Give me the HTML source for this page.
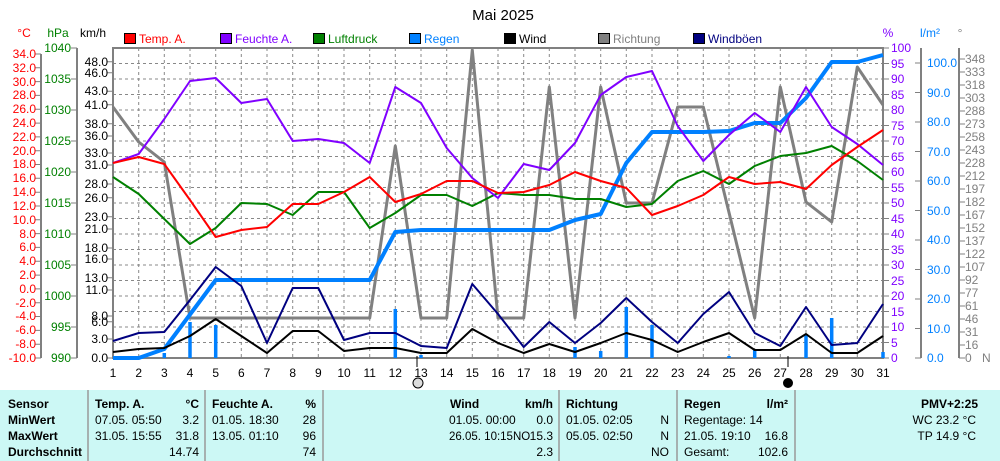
<!DOCTYPE html>
<html><head><meta charset="utf-8"><style>
body{margin:0;background:#fff;}
svg{display:block;font-family:"Liberation Sans",sans-serif;font-size:12px;}
</style></head><body>
<svg width="1000" height="461" viewBox="0 0 1000 461" xmlns="http://www.w3.org/2000/svg">
<text x="503" y="20" text-anchor="middle" font-size="15">Mai 2025</text>
<text x="24" y="37" fill="#f00" text-anchor="middle">°C</text>
<text x="58" y="37" fill="#008000" text-anchor="middle">hPa</text>
<text x="93" y="37" text-anchor="middle">km/h</text>
<text x="888" y="37" fill="#8000ff" text-anchor="middle">%</text>
<text x="930" y="37" fill="#0080ff" text-anchor="middle">l/m²</text>
<text x="960" y="37" fill="#808080" text-anchor="middle">°</text>
<g stroke="#000" stroke-width="1">
<rect x="124.5" y="33.5" width="11" height="10" fill="#f00"/>
<rect x="220.5" y="33.5" width="11" height="10" fill="#8000ff"/>
<rect x="313.5" y="33.5" width="11" height="10" fill="#008000"/>
<rect x="409.5" y="33.5" width="11" height="10" fill="#0080ff"/>
<rect x="504.5" y="33.5" width="11" height="10" fill="#000"/>
<rect x="598.5" y="33.5" width="11" height="10" fill="#808080"/>
<rect x="693.5" y="33.5" width="11" height="10" fill="#000080"/>
</g>
<text x="139" y="43" fill="#f00">Temp. A.</text>
<text x="235" y="43" fill="#8000ff">Feuchte A.</text>
<text x="328" y="43" fill="#008000">Luftdruck</text>
<text x="424" y="43" fill="#0080ff">Regen</text>
<text x="519" y="43">Wind</text>
<text x="613" y="43" fill="#808080">Richtung</text>
<text x="708" y="43" fill="#000080">Windböen</text>
<path fill="none" stroke="#888" stroke-width="1" stroke-dasharray="3,3" d="M113 342.5H883M113 327H883M113 311.5H883M113 296H883M113 280.5H883M113 265H883M113 249.5H883M113 234H883M113 218.5H883M113 203H883M113 187.5H883M113 172H883M113 156.5H883M113 141H883M113 125.5H883M113 110H883M113 94.5H883M113 79H883M113 63.5H883
M138.7 48V358M164.3 48V358M190 48V358M215.7 48V358M241.3 48V358M267 48V358M292.7 48V358M318.3 48V358M344 48V358M369.7 48V358M395.3 48V358M421 48V358M446.7 48V358M472.3 48V358M498 48V358M523.7 48V358M549.3 48V358M575 48V358M600.7 48V358M626.3 48V358M652 48V358M677.7 48V358M703.3 48V358M729 48V358M754.7 48V358M780.3 48V358M806 48V358M831.7 48V358M857.3 48V358"/>
<g stroke="#808080" stroke-width="2" fill="none">
<rect x="113" y="48" width="770" height="310"/>
<path d="M41 54V358M77 48V358M921 48V358M959 48V358"/>
</g>
<g stroke="#808080" stroke-width="1">
<path d="M35 358H41M35 344.2H41M35 330.4H41M35 316.5H41M35 302.7H41M35 288.9H41M35 275.1H41M35 261.3H41M35 247.4H41M35 233.6H41M35 219.8H41M35 206H41M35 192.2H41M35 178.3H41M35 164.5H41M35 150.7H41M35 136.9H41M35 123.1H41M35 109.2H41M35 95.4H41M35 81.6H41M35 67.8H41M35 54H41"/>
<path d="M71 358H77M71 327H77M71 296H77M71 265H77M71 234H77M71 203H77M71 172H77M71 141H77M71 110H77M71 79H77M71 48H77"/>
<path d="M107 358H113M107 339H113M107 321.7H113M107 316H113M107 290H113M107 277.7H113M107 259H113M107 248H113M107 229H113M107 216.7H113M107 197.7H113M107 184H113M107 165H113M107 153H113M107 136H113M107 123.7H113M107 104.7H113M107 91.3H113M107 72.7H113M107 61.7H113"/>
<path d="M883 358H889M883 342.5H889M883 327H889M883 311.5H889M883 296H889M883 280.5H889M883 265H889M883 249.5H889M883 234H889M883 218.5H889M883 203H889M883 187.5H889M883 172H889M883 156.5H889M883 141H889M883 125.5H889M883 110H889M883 94.5H889M883 79H889M883 63.5H889M883 48H889"/>
<path d="M915 358H921M915 328.5H921M915 299H921M915 269.5H921M915 240H921M915 210.5H921M915 181H921M915 151.5H921M915 122H921M915 92.5H921M915 63H921"/>
<path d="M959 358H965M959 345H965M959 332H965M959 319H965M959 306H965M959 293H965M959 280H965M959 267H965M959 254H965M959 241H965M959 228H965M959 215H965M959 202H965M959 189H965M959 176H965M959 163H965M959 150H965M959 137H965M959 124H965M959 111H965M959 98H965M959 85H965M959 72H965M959 59H965"/>
</g>
<g fill="#f00" text-anchor="end" font-size="12">
<text x="36" y="362">-10.0</text><text x="36" y="348">-8.0</text><text x="36" y="334">-6.0</text><text x="36" y="320">-4.0</text><text x="36" y="307">-2.0</text><text x="36" y="293">0.0</text><text x="36" y="279">2.0</text><text x="36" y="265">4.0</text><text x="36" y="251">6.0</text><text x="36" y="238">8.0</text><text x="36" y="224">10.0</text><text x="36" y="210">12.0</text><text x="36" y="196">14.0</text><text x="36" y="182">16.0</text><text x="36" y="168">18.0</text><text x="36" y="155">20.0</text><text x="36" y="141">22.0</text><text x="36" y="127">24.0</text><text x="36" y="113">26.0</text><text x="36" y="99">28.0</text><text x="36" y="86">30.0</text><text x="36" y="72">32.0</text><text x="36" y="58">34.0</text>
</g>
<g fill="#008000" text-anchor="end" font-size="12">
<text x="71" y="362">990</text><text x="71" y="331">995</text><text x="71" y="300">1000</text><text x="71" y="269">1005</text><text x="71" y="238">1010</text><text x="71" y="207">1015</text><text x="71" y="176">1020</text><text x="71" y="145">1025</text><text x="71" y="114">1030</text><text x="71" y="83">1035</text><text x="71" y="52">1040</text>
</g>
<g text-anchor="end" font-size="12">
<text x="108" y="362">0.0</text><text x="108" y="343">3.0</text><text x="108" y="326">6.0</text><text x="108" y="320">8.0</text><text x="108" y="294">11.0</text><text x="108" y="282">13.0</text><text x="108" y="263">16.0</text><text x="108" y="252">18.0</text><text x="108" y="233">21.0</text><text x="108" y="221">23.0</text><text x="108" y="202">26.0</text><text x="108" y="188">28.0</text><text x="108" y="169">31.0</text><text x="108" y="157">33.0</text><text x="108" y="140">36.0</text><text x="108" y="128">38.0</text><text x="108" y="109">41.0</text><text x="108" y="95">43.0</text><text x="108" y="77">46.0</text><text x="108" y="66">48.0</text>
</g>
<g fill="#8000ff" font-size="12">
<text x="891" y="362">0</text><text x="891" y="347">5</text><text x="891" y="331">10</text><text x="891" y="316">15</text><text x="891" y="300">20</text><text x="891" y="285">25</text><text x="891" y="269">30</text><text x="891" y="254">35</text><text x="891" y="238">40</text><text x="891" y="223">45</text><text x="891" y="207">50</text><text x="891" y="192">55</text><text x="891" y="176">60</text><text x="891" y="161">65</text><text x="891" y="145">70</text><text x="891" y="130">75</text><text x="891" y="114">80</text><text x="891" y="99">85</text><text x="891" y="83">90</text><text x="891" y="68">95</text><text x="891" y="52">100</text>
</g>
<g fill="#0080ff" font-size="12">
<text x="927" y="362">0.0</text><text x="927" y="333">10.0</text><text x="927" y="303">20.0</text><text x="927" y="274">30.0</text><text x="927" y="244">40.0</text><text x="927" y="215">50.0</text><text x="927" y="185">60.0</text><text x="927" y="156">70.0</text><text x="927" y="126">80.0</text><text x="927" y="97">90.0</text><text x="927" y="67">100.0</text>
</g>
<g fill="#808080" font-size="12">
<text x="965" y="362">0</text><text x="965" y="349">16</text><text x="965" y="336">31</text><text x="965" y="323">46</text><text x="965" y="310">61</text><text x="965" y="297">77</text><text x="965" y="284">92</text><text x="965" y="271">107</text><text x="965" y="258">122</text><text x="965" y="245">137</text><text x="965" y="232">152</text><text x="965" y="219">167</text><text x="965" y="206">182</text><text x="965" y="193">197</text><text x="965" y="180">212</text><text x="965" y="167">228</text><text x="965" y="154">243</text><text x="965" y="141">258</text><text x="965" y="128">273</text><text x="965" y="115">288</text><text x="965" y="102">303</text><text x="965" y="89">318</text><text x="965" y="76">333</text><text x="965" y="63">348</text>
<text x="982" y="362">N</text>
</g>
<g text-anchor="middle" font-size="12">
<text x="113" y="377">1</text><text x="138.7" y="377">2</text><text x="164.3" y="377">3</text><text x="190" y="377">4</text><text x="215.7" y="377">5</text><text x="241.3" y="377">6</text><text x="267" y="377">7</text><text x="292.7" y="377">8</text><text x="318.3" y="377">9</text><text x="344" y="377">10</text><text x="369.7" y="377">11</text><text x="395.3" y="377">12</text><text x="421" y="377">13</text><text x="446.7" y="377">14</text><text x="472.3" y="377">15</text><text x="498" y="377">16</text><text x="523.7" y="377">17</text><text x="549.3" y="377">18</text><text x="575" y="377">19</text><text x="600.7" y="377">20</text><text x="626.3" y="377">21</text><text x="652" y="377">22</text><text x="677.7" y="377">23</text><text x="703.3" y="377">24</text><text x="729" y="377">25</text><text x="754.7" y="377">26</text><text x="780.3" y="377">27</text><text x="806" y="377">28</text><text x="831.7" y="377">29</text><text x="857.3" y="377">30</text><text x="883" y="377">31</text>
</g>
<path d="M417 356V367M788 356V367" stroke="#000" stroke-width="1"/>
<circle cx="418" cy="383" r="5" fill="#ddd" stroke="#000"/>
<circle cx="788" cy="383" r="5" fill="#000"/>
<g stroke="#0080ff" stroke-width="3.5">
<path d="M164.3 353V358M190 322V358M215.7 325V358M395.3 309V358M421 355V358M575 347V358M600.7 351V358M626.3 307V358M652 325V358M729 356V358M754.7 349V358M806 334V358M831.7 318V358M883 352V358"/>
</g>
<g fill="none" stroke-linejoin="round">
<polyline stroke="#808080" stroke-width="3" points="113,107 138.7,142 164.3,162 190,318 215.7,318 241.3,318 267,318 292.7,318 318.3,318 344,318 369.7,318 395.3,146 421,318 446.7,318 472.3,50 498,318 523.7,318 549.3,87 575,318 600.7,87 626.3,203 652,203 677.7,107 703.3,107 754.7,318 780.3,87 806,202 831.7,222 857.3,67 883,105"/>
<polyline stroke="#0080ff" stroke-width="4" points="113,358 138.7,358 164.3,349 215.7,280 241.3,280 369.7,280 395.3,232 421,230 549.3,230 575,220 600.7,214 626.3,163 652,132 703.3,132 729,131 754.7,123 780.3,123 806,98 831.7,62 857.3,62 883,55"/>
<polyline stroke="#000080" stroke-width="2" points="113,341 138.7,333 164.3,332 190,300 215.7,267 241.3,286 267,343 292.7,288 318.3,288 344,340 369.7,333 395.3,333 421,346 446.7,348 472.3,284 498,314 523.7,347 549.3,322 575,343 600.7,323 626.3,298 652,322 677.7,343 703.3,314 729,292 754.7,333 780.3,346 806,307 831.7,345 857.3,343 883,304"/>
<polyline stroke="#000" stroke-width="2" points="113,352 138.7,349 164.3,348 190,336 215.7,319 241.3,336 267,353 292.7,331 318.3,331 344,351 369.7,348 395.3,348 421,353 446.7,353 472.3,329 498,343 523.7,353 549.3,344 575,352 600.7,343 626.3,333 652,340 677.7,352 703.3,342 729,333 754.7,350 780.3,350 806,334 831.7,353 857.3,353 883,336"/>
<polyline stroke="#008000" stroke-width="2" points="113,177 138.7,194 164.3,219 190,244 215.7,228 241.3,203 267,204 292.7,215 318.3,192 344,192 369.7,228 395.3,213 421,195 446.7,195 472.3,206 498,193 523.7,195 549.3,195 575,199 600.7,199 626.3,207 652,204 677.7,181 703.3,171 729,184 754.7,166 780.3,156 806,153 831.7,146 857.3,161 883,180"/>
<polyline stroke="#8000ff" stroke-width="2" points="113,163 138.7,154 164.3,119 190,81 215.7,78 241.3,103 267,99 292.7,141 318.3,139 344,143 369.7,163 395.3,87 421,103 446.7,148 472.3,178 498,198 523.7,164 549.3,170 575,143 600.7,95 626.3,77 652,71 677.7,126 703.3,161 729,135 754.7,113 780.3,132 806,87 831.7,127 857.3,144 883,165"/>
<polyline stroke="#f00" stroke-width="2" points="113,163 138.7,157 164.3,164 190,200 215.7,237 241.3,230 267,227 292.7,204 318.3,204 344,192 369.7,177 395.3,202 421,194 446.7,181 472.3,181 498,193 523.7,192 549.3,185 575,172 600.7,181 626.3,188 652,215 677.7,206 703.3,195 729,177 754.7,184 780.3,182 806,189 831.7,165 857.3,147 883,130"/>
</g>
<rect x="0" y="390" width="1000" height="71" fill="#ccf8f5"/>
<path d="M88 390V461M205 390V461M323 390V461M559 390V461M677 390V461M795 390V461" stroke="#999" stroke-width="1.5"/>
<g font-size="12">
<g font-weight="bold">
<text x="8" y="408">Sensor</text><text x="8" y="424">MinWert</text><text x="8" y="440">MaxWert</text><text x="8" y="456">Durchschnitt</text>
<text x="95" y="408">Temp. A.</text><text x="199" y="408" text-anchor="end">°C</text>
<text x="212" y="408">Feuchte A.</text><text x="316" y="408" text-anchor="end">%</text>
<text x="450" y="408">Wind</text><text x="553" y="408" text-anchor="end">km/h</text>
<text x="566" y="408">Richtung</text>
<text x="684" y="408">Regen</text><text x="788" y="408" text-anchor="end">l/m²</text>
<text x="978" y="408" text-anchor="end">PMV+2:25</text>
</g>
<text x="95" y="424">07.05.  05:50</text><text x="199" y="424" text-anchor="end">3.2</text>
<text x="95" y="440">31.05.  15:55</text><text x="199" y="440" text-anchor="end">31.8</text>
<text x="199" y="456" text-anchor="end">14.74</text>
<text x="212" y="424">01.05.  18:30</text><text x="316" y="424" text-anchor="end">28</text>
<text x="212" y="440">13.05.  01:10</text><text x="316" y="440" text-anchor="end">96</text>
<text x="316" y="456" text-anchor="end">74</text>
<text x="449" y="424">01.05. 00:00</text><text x="553" y="424" text-anchor="end">0.0</text>
<text x="449" y="440" font-size="11.5">26.05. 10:15NO</text><text x="553" y="440" text-anchor="end">15.3</text>
<text x="553" y="456" text-anchor="end">2.3</text>
<text x="566" y="424">01.05.  02:05</text><text x="669" y="424" text-anchor="end">N</text>
<text x="566" y="440">05.05.  02:50</text><text x="669" y="440" text-anchor="end">N</text>
<text x="669" y="456" text-anchor="end">NO</text>
<text x="684" y="424">Regentage: 14</text>
<text x="684" y="440">21.05.  19:10</text><text x="788" y="440" text-anchor="end">16.8</text>
<text x="684" y="456">Gesamt:</text><text x="788" y="456" text-anchor="end">102.6</text>
<text x="976" y="424" text-anchor="end">WC 23.2 °C</text>
<text x="976" y="440" text-anchor="end">TP 14.9 °C</text>
</g>
</svg>
</body></html>
